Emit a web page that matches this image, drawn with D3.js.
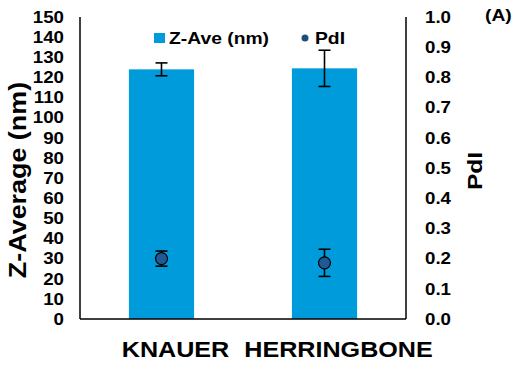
<!DOCTYPE html>
<html>
<head>
<meta charset="utf-8">
<script src="https://cdn.jsdelivr.net/npm/d3@7"></script>
<style>
  body { margin: 0; background: #fff; }
  text { font-family: Arial, "Liberation Sans", sans-serif; font-weight: bold; fill: #000; }
</style>
</head>
<body>
<svg id="chart" width="512" height="374"></svg>
<script>
// 数据
const categories = ['KNAUER', 'HERRINGBONE'];
const zAve = [124.0, 124.5];
const zAveErr = [3.2, 9.0];
const pdi = [0.200, 0.186];
const pdiErr = [0.025, 0.045];
const leftTicks = d3.range(0, 151, 10);
const rightTicks = d3.range(0, 1.01, 0.1);

const svg = d3.select('#chart');
// 绘图区边界（避免使用 window.top 这样的全局名）
const plotL = 80, plotR = 406, plotT = 17, plotB = 319;
const SX = 1.17; // 原图文字横向略拉伸

const x = d3.scaleBand().domain(categories).range([plotL, plotR]).paddingInner(0.6).paddingOuter(0.3);
const yL = d3.scaleLinear().domain([0, 150]).range([plotB, plotT]);
const yR = d3.scaleLinear().domain([0, 1]).range([plotB, plotT]);

// 文字辅助函数
function label(px, py, txt, size, anchor, rot, dy) {
  svg.append('g')
    .attr('transform', `translate(${px},${py}) rotate(${rot || 0}) scale(${SX},1)`)
    .append('text')
    .attr('text-anchor', anchor || 'start')
    .attr('dy', dy || 0)
    .style('font-size', size + 'px')
    .text(txt);
}

// 柱子
svg.selectAll('rect.bar').data(categories).enter().append('rect')
  .attr('class', 'bar')
  .attr('x', d => x(d))
  .attr('width', x.bandwidth())
  .attr('y', (d, i) => yL(zAve[i]))
  .attr('height', (d, i) => yL(0) - yL(zAve[i]))
  .attr('fill', '#009BDB');

// 误差线
function errBar(cx, y1, y2, w) {
  const g = svg.append('g').attr('stroke', '#000').attr('stroke-width', 1.6);
  g.append('line').attr('x1', cx).attr('x2', cx).attr('y1', y1).attr('y2', y2);
  g.append('line').attr('x1', cx - w).attr('x2', cx + w).attr('y1', y1).attr('y2', y1);
  g.append('line').attr('x1', cx - w).attr('x2', cx + w).attr('y1', y2).attr('y2', y2);
}
categories.forEach((c, i) => {
  const cx = x(c) + x.bandwidth() / 2;
  errBar(cx, yL(zAve[i] + zAveErr[i]), yL(zAve[i] - zAveErr[i]), 6);
  errBar(cx, yR(pdi[i] + pdiErr[i]), yR(pdi[i] - pdiErr[i]), 6);
});

// PdI 点
svg.selectAll('circle.pt').data(categories).enter().append('circle')
  .attr('class', 'pt')
  .attr('cx', d => x(d) + x.bandwidth() / 2)
  .attr('cy', (d, i) => yR(pdi[i]))
  .attr('r', 6)
  .attr('fill', '#1F5A96')
  .attr('stroke', '#000')
  .attr('stroke-width', 1.2);

// 坐标轴
svg.append('line').attr('x1', plotL).attr('x2', plotL).attr('y1', plotT).attr('y2', plotB).attr('stroke', '#000').attr('stroke-width', 1.5);
svg.append('line').attr('x1', plotR).attr('x2', plotR).attr('y1', plotT).attr('y2', plotB).attr('stroke', '#000').attr('stroke-width', 1.5);
svg.append('line').attr('x1', plotL).attr('x2', plotR).attr('y1', plotB).attr('y2', plotB).attr('stroke', '#000').attr('stroke-width', 1.5);

leftTicks.forEach(d => label(64, yL(d), d, 16, 'end', 0, '0.36em'));
rightTicks.forEach(d => label(425, yR(d), d.toFixed(1), 16, 'start', 0, '0.36em'));

categories.forEach(c => label(x(c) + x.bandwidth() / 2 + 14, 357, c, 21.5, 'middle'));

// 轴标题
label(26, 180, 'Z-Average (nm)', 23, 'middle', -90);
label(482, 171, 'PdI', 21, 'middle', -90);
label(485, 21, '(A)', 16.5, 'start');

// 图例
svg.append('rect').attr('x', 154).attr('y', 33).attr('width', 11).attr('height', 10).attr('fill', '#009BDB');
label(169, 44, 'Z-Ave (nm)', 16.5, 'start');
svg.append('circle').attr('cx', 305).attr('cy', 38).attr('r', 3.5).attr('fill', '#1F4E79');
label(315, 44, 'PdI', 16.5, 'start');
</script>
</body>
</html>
